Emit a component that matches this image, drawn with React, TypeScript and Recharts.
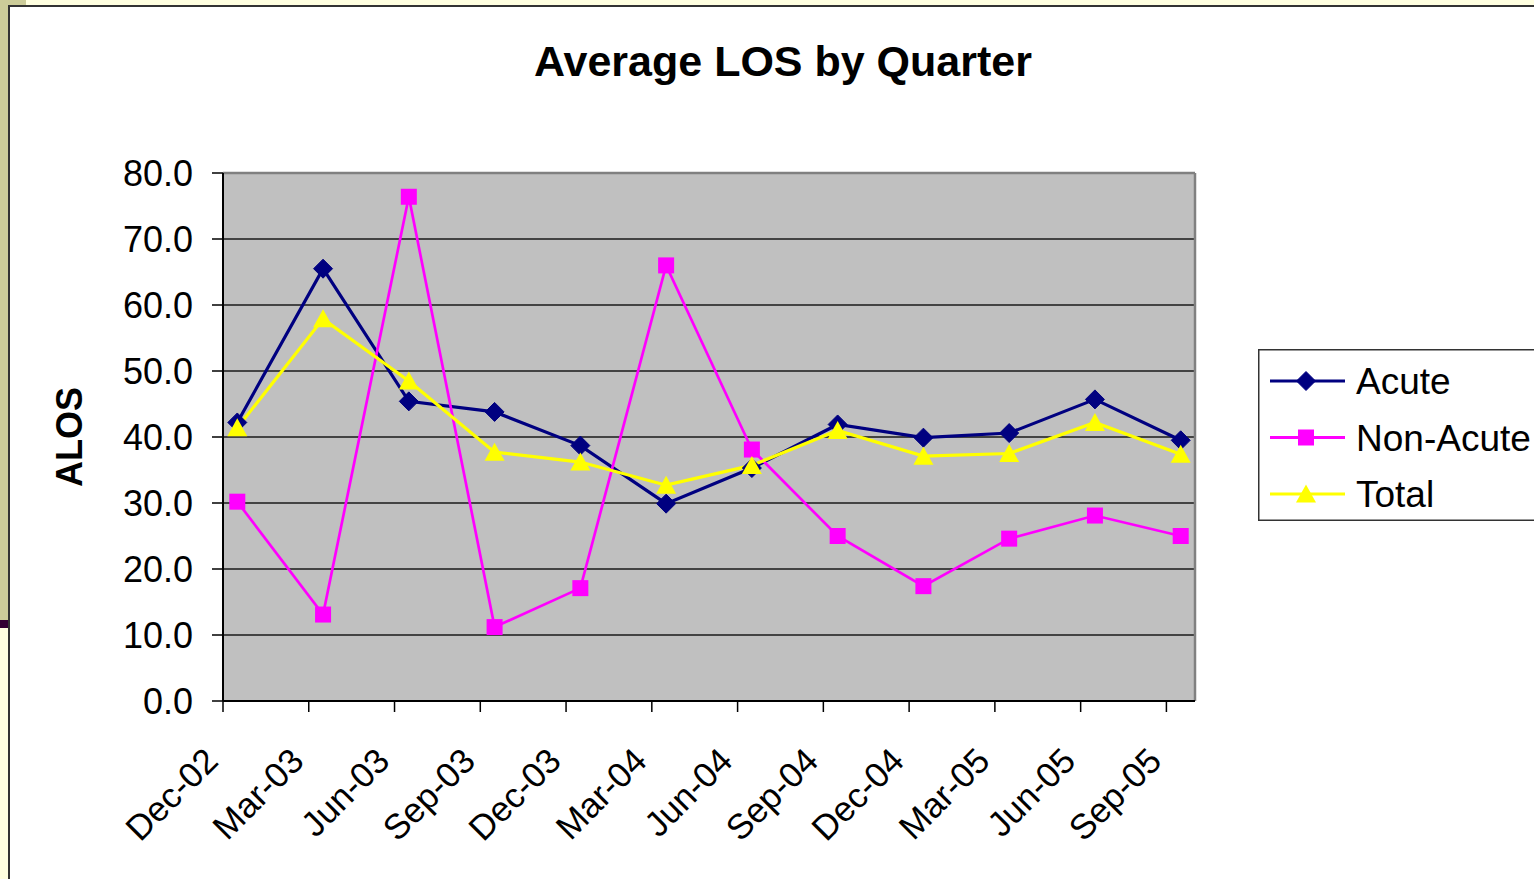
import React from 'react';
import {
  LineChart,
  Line,
  XAxis,
  YAxis,
  CartesianGrid,
  Legend,
  ReferenceLine,
} from 'recharts';

const quarters = [
  'Dec-02', 'Mar-03', 'Jun-03', 'Sep-03', 'Dec-03', 'Mar-04',
  'Jun-04', 'Sep-04', 'Dec-04', 'Mar-05', 'Jun-05', 'Sep-05',
];
const acute = [42.2, 65.5, 45.4, 43.8, 38.7, 29.9, 35.3, 41.9, 39.9, 40.6, 45.7, 39.5];
const nonAcute = [30.2, 13.1, 76.4, 11.2, 17.1, 66.0, 38.1, 25.0, 17.4, 24.6, 28.1, 25.0];
const total = [41.4, 57.9, 48.5, 37.7, 36.2, 32.7, 35.7, 41.0, 37.1, 37.5, 42.2, 37.4];
const yTicks = [0, 10, 20, 30, 40, 50, 60, 70, 80];

// date axis: one slot per month, each quarter point sits in the middle of its month
const MONTHS_PER_Q = 3;
const monthCount = quarters.length * MONTHS_PER_Q - 2;
const xTicks = quarters.map((_, i) => i * MONTHS_PER_Q);

const data = quarters.map((q, i) => ({
  month: i * MONTHS_PER_Q + 0.5,
  label: q,
  acute: acute[i],
  nonAcute: nonAcute[i],
  total: total[i],
}));

const FONT = '"Liberation Sans", Arial, sans-serif';
const NAVY = '#000080';
const MAGENTA = '#FF00FF';
const YELLOW = '#FFFF00';

const diamond = (cx: number, cy: number, key?: any) => (
  <polygon
    key={key}
    points={`${cx},${cy - 9.5} ${cx + 9.5},${cy} ${cx},${cy + 9.5} ${cx - 9.5},${cy}`}
    fill={NAVY}
    stroke={NAVY}
    strokeWidth={1}
  />
);
const square = (cx: number, cy: number, key?: any) => (
  <rect key={key} x={cx - 8} y={cy - 8} width={16} height={16} fill={MAGENTA} />
);
const triangle = (cx: number, cy: number, key?: any) => (
  <polygon
    key={key}
    points={`${cx},${cy - 9.5} ${cx + 10},${cy + 8.5} ${cx - 10},${cy + 8.5}`}
    fill={YELLOW}
  />
);

const series = [
  { key: 'acute', name: 'Acute', color: NAVY, width: 3.2, marker: diamond },
  { key: 'nonAcute', name: 'Non-Acute', color: MAGENTA, width: 2.7, marker: square },
  { key: 'total', name: 'Total', color: YELLOW, width: 3.2, marker: triangle },
];

const XTick = (props: any) => {
  const { x, y, payload } = props;
  const ax = x - 3;
  const ay = y + 51;
  return (
    <text
      x={ax}
      y={ay}
      transform={`rotate(-45, ${ax}, ${ay})`}
      textAnchor="end"
      fontSize={35}
      fontFamily={FONT}
      fill="#000"
    >
      {quarters[Math.round(payload.value / MONTHS_PER_Q)]}
    </text>
  );
};

const AxisTitle = (props: any) => {
  const { viewBox } = props;
  const x = viewBox.x + viewBox.width - 154;
  const y = viewBox.y + viewBox.height / 2;
  return (
    <text
      x={x}
      y={y}
      transform={`rotate(-90, ${x}, ${y})`}
      textAnchor="middle"
      dy="0.36em"
      fontSize={36}
      fontWeight="bold"
      fontFamily={FONT}
      fill="#000"
    >
      ALOS
    </text>
  );
};

const LegendBox = () => (
  <svg width={300} height={172} style={{ display: 'block' }}>
    <rect x={0.75} y={0.75} width={298} height={170.5} fill="#fff" stroke="#333" strokeWidth={1.5} />
    {series.map((s, i) => {
      const cy = 32 + i * 56.5;
      return (
        <g key={s.key}>
          <line x1={12} x2={87} y1={cy} y2={cy} stroke={s.color} strokeWidth={3} />
          {s.marker(48, cy)}
          <text x={98} y={cy} dy="0.36em" fontSize={37} fontFamily={FONT} fill="#000">
            {s.name}
          </text>
        </g>
      );
    })}
  </svg>
);

export default function App() {
  return (
    <div
      style={{
        position: 'absolute',
        left: 0,
        top: 0,
        width: 1534,
        height: 879,
        overflow: 'hidden',
        background: '#FFFFE0',
      }}
    >
      <div style={{ position: 'absolute', left: 0, top: 0, width: 9, height: 620, background: '#CCCC99' }} />
      <div style={{ position: 'absolute', left: 0, top: 0, width: 26, height: 5, background: '#CCCC99' }} />
      <div style={{ position: 'absolute', left: 0, top: 620, width: 9, height: 8, background: '#330033' }} />
      <div style={{ position: 'absolute', left: 8, top: 5, width: 1526, height: 2, background: '#333' }} />
      <div style={{ position: 'absolute', left: 8, top: 5, width: 2, height: 874, background: '#333' }} />

      <div style={{ position: 'absolute', left: 10, top: 7, width: 1524, height: 872, background: '#fff' }}>
        <div
          style={{
            position: 'absolute',
            left: 373,
            top: 33,
            width: 800,
            textAlign: 'center',
            fontFamily: FONT,
            fontWeight: 'bold',
            fontSize: 43,
            lineHeight: 1,
            color: '#000',
          }}
        >
          Average LOS by Quarter
        </div>

        <LineChart
          width={1524}
          height={872}
          data={data}
          margin={{ top: 166, right: 339, left: 93, bottom: 58 }}
        >
          <CartesianGrid fill="#C0C0C0" stroke="#1a1a1a" strokeWidth={1.5} vertical={false} />
          <ReferenceLine y={80} stroke="#808080" strokeWidth={2.5} />
          <ReferenceLine x={monthCount} stroke="#808080" strokeWidth={2.5} />
          <XAxis
            dataKey="month"
            type="number"
            domain={[0, monthCount]}
            ticks={xTicks}
            interval={0}
            height={120}
            tickSize={11}
            tickMargin={0}
            axisLine={{ stroke: '#000', strokeWidth: 2 }}
            tickLine={{ stroke: '#000', strokeWidth: 1.5 }}
            tick={<XTick />}
          />
          <YAxis
            type="number"
            domain={[0, 80]}
            ticks={yTicks}
            interval={0}
            width={120}
            tickSize={11}
            tickMargin={19}
            axisLine={{ stroke: '#000', strokeWidth: 2 }}
            tickLine={{ stroke: '#000', strokeWidth: 1.5 }}
            tick={{ fontSize: 36, fill: '#000', fontFamily: FONT }}
            tickFormatter={(v: number) => v.toFixed(1)}
            label={<AxisTitle />}
          />
          <Legend
            layout="horizontal"
            verticalAlign="middle"
            align="center"
            wrapperStyle={{ left: 1248, top: 342, width: 300, height: 172 }}
            content={() => <LegendBox />}
          />
          {series.map((s) => (
            <Line
              key={s.key}
              type="linear"
              dataKey={s.key}
              name={s.name}
              stroke={s.color}
              strokeWidth={s.width}
              dot={(p: any) => s.marker(p.cx, p.cy, `${s.key}-${p.index}`)}
              activeDot={false}
              isAnimationActive={false}
            />
          ))}
        </LineChart>
      </div>
    </div>
  );
}
